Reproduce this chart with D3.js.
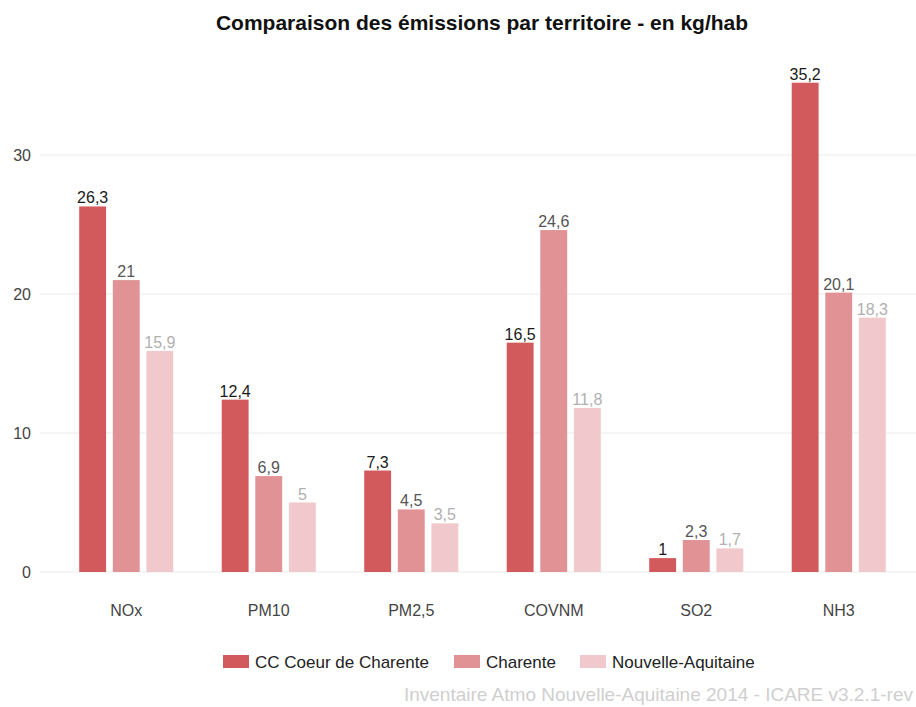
<!DOCTYPE html>
<html>
<head>
<meta charset="utf-8">
<style>
  body { margin: 0; background: #fff; }
  svg { display: block; font-family: "Liberation Sans", Arial, sans-serif; }
</style>
<script src="https://d3js.org/d3.v7.min.js"></script>
</head>
<body>
<svg width="916" height="707"></svg>
<script>
var polluants = ["NOx", "PM10", "PM2,5", "COVNM", "SO2", "NH3"];
var territoires = ["CC Coeur de Charente", "Charente", "Nouvelle-Aquitaine"];
var ccCoeur = [26.3, 12.4, 7.3, 16.5, 1, 35.2];
var charente = [21, 6.9, 4.5, 24.6, 2.3, 20.1];
var nouvelleAquitaine = [15.9, 5, 3.5, 11.8, 1.7, 18.3];
var yTicks = [0, 10, 20, 30];

var series = [ccCoeur, charente, nouvelleAquitaine];
var colors = ["#d25a5c", "#e09294", "#f1c8cb"];
var labelColors = ["#1a1a1a", "#555555", "#b0b0b0"];

var svg = d3.select("svg");

var x0 = d3.scaleBand().domain(polluants).range([55, 910]).paddingInner(0.34).paddingOuter(0.17);
var x1 = d3.scaleBand().domain(d3.range(3)).range([0, x0.bandwidth()]).paddingInner(0.2);
var y = d3.scaleLinear().domain([0, 30]).range([572, 155]);

// grid
svg.append("g").selectAll("line")
  .data(yTicks)
  .enter().append("line")
  .attr("x1", 40).attr("x2", 916)
  .attr("y1", function(d) { return y(d); })
  .attr("y2", function(d) { return y(d); })
  .attr("stroke", "#ebebeb").attr("stroke-width", 1.2);

// y tick labels
svg.append("g").selectAll("text")
  .data(yTicks)
  .enter().append("text")
  .attr("x", 31).attr("y", function(d) { return y(d); })
  .attr("dy", "0.35em").attr("text-anchor", "end")
  .attr("font-size", 16).attr("fill", "#444")
  .text(function(d) { return d; });

// bars
var groups = svg.append("g").selectAll("g")
  .data(polluants)
  .enter().append("g")
  .attr("transform", function(d) { return "translate(" + x0(d) + ",0)"; });

groups.selectAll("rect")
  .data(function(d, i) { return series.map(function(s, k) { return {k: k, v: s[i]}; }); })
  .enter().append("rect")
  .attr("x", function(d) { return x1(d.k); })
  .attr("y", function(d) { return y(d.v); })
  .attr("width", x1.bandwidth())
  .attr("height", function(d) { return y(0) - y(d.v); })
  .attr("fill", function(d) { return colors[d.k]; });

groups.selectAll("text")
  .data(function(d, i) { return series.map(function(s, k) { return {k: k, v: s[i]}; }); })
  .enter().append("text")
  .attr("x", function(d) { return x1(d.k) + x1.bandwidth() / 2; })
  .attr("y", function(d) { return y(d.v) - 3; })
  .attr("text-anchor", "middle")
  .attr("font-size", 16)
  .attr("fill", function(d) { return labelColors[d.k]; })
  .text(function(d) { return String(d.v).replace(".", ","); });

// x labels
svg.append("g").selectAll("text")
  .data(polluants)
  .enter().append("text")
  .attr("x", function(d) { return x0(d) + x0.bandwidth() / 2; })
  .attr("y", 616)
  .attr("text-anchor", "middle")
  .attr("font-size", 16).attr("fill", "#444")
  .text(function(d) { return d; });

// title
svg.append("text")
  .attr("x", 482).attr("y", 30)
  .attr("text-anchor", "middle")
  .attr("font-size", 21).attr("font-weight", "bold").attr("fill", "#111")
  .text("Comparaison des émissions par territoire - en kg/hab");

// legend
var legendX = [223, 454, 580];
var legend = svg.append("g").selectAll("g")
  .data(territoires)
  .enter().append("g")
  .attr("transform", function(d, i) { return "translate(" + legendX[i] + ",655)"; });
legend.append("rect")
  .attr("width", 26).attr("height", 13)
  .attr("fill", function(d, i) { return colors[i]; });
legend.append("text")
  .attr("x", 32).attr("y", 13)
  .attr("font-size", 17).attr("fill", "#222")
  .text(function(d) { return d; });

// source
svg.append("text")
  .attr("x", 913).attr("y", 701)
  .attr("text-anchor", "end")
  .attr("font-size", 19).attr("fill", "#cfcfcf")
  .text("Inventaire Atmo Nouvelle-Aquitaine 2014 - ICARE v3.2.1-rev");
</script>
</body>
</html>
